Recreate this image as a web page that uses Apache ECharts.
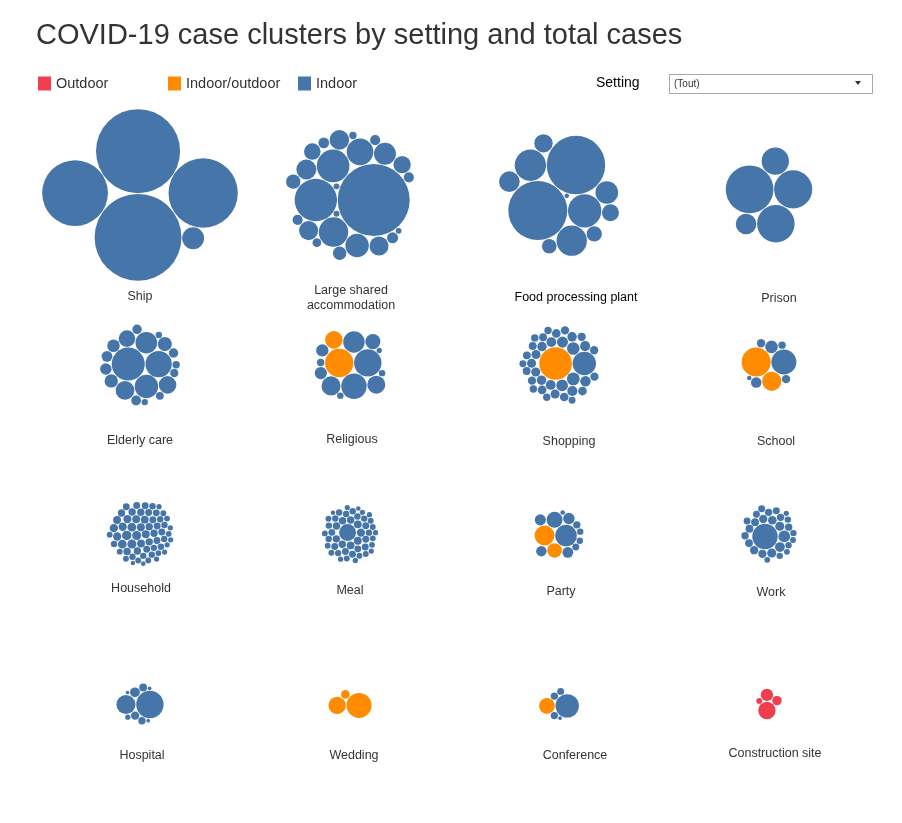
<!DOCTYPE html>
<html>
<head>
<meta charset="utf-8">
<script src="https://cdn.jsdelivr.net/npm/echarts@6/dist/echarts.min.js"></script>
<style>
  html, body { margin: 0; padding: 0; background: #fff; }
  #main { width: 902px; height: 823px; }
</style>
</head>
<body>
<div id="main"></div>
<script>
'use strict'

// settings, in reading order (4 per row)
const settings = [
    'Ship', 'Large shared\naccommodation', 'Food processing plant', 'Prison',
    'Elderly care', 'Religious', 'Shopping', 'School',
    'Household', 'Meal', 'Party', 'Work',
    'Hospital', 'Wedding', 'Conference', 'Construction site'
]

// cases per cluster, split by setting type
const indoor = [
    [1100, 1030, 700, 630, 70],
    [755, 262, 155, 126, 104, 80, 70, 58, 56, 53, 53, 44, 40, 30, 26, 18, 17, 15, 15, 15, 11, 8, 5, 5, 5],
    [507, 497, 162, 143, 134, 75, 62, 49, 42, 34, 31, 3],
    [331, 212, 205, 109, 62],
    [159, 101, 80, 68, 51, 45, 40, 29, 26, 23, 19, 17, 14, 13, 13, 10, 9, 8, 6, 6],
    [109, 94, 67, 53, 47, 33, 22, 22, 8, 6, 6, 4],
    [80, 24, 23, 20, 18, 16, 15, 15, 14, 14, 13, 13, 13, 12, 12, 12, 12, 11, 11, 11, 11, 10, 10, 10, 10, 10, 9, 9, 9, 9, 8, 8, 8, 8, 7, 7],
    [91, 23, 16, 10, 10, 8, 3],
    [13, 12, 12, 11, 11, 10, 10, 10, 10, 9, 9, 9, 9, 9, 9, 8, 8, 8, 8, 8, 8, 8, 8, 7, 7, 7, 7, 7, 7, 7, 7, 7, 7,
        6, 6, 6, 6, 6, 6, 6, 6, 6, 6, 5, 5, 5, 5, 5, 5, 5, 5, 5, 4, 4, 4, 4, 4, 4, 3, 3],
    [42, 10, 9, 9, 9, 8, 8, 8, 8, 8, 7, 7, 7, 7, 7, 7, 7, 7, 6, 6, 6, 6, 6, 6, 6, 6, 6, 6,
        5, 5, 5, 5, 5, 5, 5, 5, 5, 5, 5, 4, 4, 4, 4, 4, 4, 4, 3, 3],
    [68, 37, 19, 18, 17, 16, 8, 7, 6, 6, 3],
    [94, 20, 14, 12, 12, 11, 10, 10, 10, 9, 9, 9, 8, 8, 8, 8, 7, 7, 7, 7, 6, 6, 6, 6, 5, 5, 5, 4],
    [109, 53, 14, 10, 9, 8, 4, 2, 2, 2],
    [],
    [80, 8, 8, 7, 2],
    []
]
const mixed = [
    [], [], [], [],
    [], [117, 45], [155], [123, 54],
    [], [], [58, 31], [],
    [], [91, 44, 11], [36], []
]
const outdoor = [
    [], [], [], [],
    [], [], [], [],
    [], [], [], [],
    [], [], [], [44, 22, 13, 5]
]

const types = ['Outdoor', 'Indoor/outdoor', 'Indoor']
const typeColors = {'Outdoor': '#EF3F4F', 'Indoor/outdoor': '#FF8C00', 'Indoor': '#4675AA'}

// layout
const colX = [140, 350, 559, 769]
const rowY = [195, 365, 534, 704]
const lblX = [140, 351, 576, 779, 140, 352, 569, 776, 141, 350, 561, 771, 142, 354, 575, 775]
const lblY = [297, 298, 298, 299, 441, 440, 442, 442, 589, 591, 592, 593, 756, 756, 756, 754]
// turn of each packed bubble group, degrees
const turn = [-90, 180, -50, 0, 0, 0, 0, 0, 0, 0, 180, 0, 180, 180, 180, -90]
const R_SCALE = 1.31
const PAD = 0.7
const FONT = 'Liberation Sans, Arial, sans-serif'

function radius(v) {
    return R_SCALE * Math.sqrt(v)
}

function centre(placed) {
    let x0 = Infinity, x1 = -Infinity, y0 = Infinity, y1 = -Infinity
    placed.forEach(p => {
        x0 = Math.min(x0, p.x - p.r); x1 = Math.max(x1, p.x + p.r)
        y0 = Math.min(y0, p.y - p.r); y1 = Math.max(y1, p.y + p.r)
    })
    const ox = (x0 + x1) / 2, oy = (y0 + y1) / 2
    placed.forEach(p => { p.x -= ox; p.y -= oy })
}

// greedy circle packing: biggest first, each new circle tangent to two others, nearest the centroid
function packCircles(items, deg) {
    const list = items.slice().sort((a, b) => b.v - a.v)
    const placed = []
    list.forEach(c => {
        const r = radius(c.v) + PAD / 2
        c.r = r
        if (placed.length === 0) {
            c.x = 0; c.y = 0
        } else if (placed.length === 1) {
            c.x = placed[0].r + r; c.y = 0
        } else {
            let sx = 0, sy = 0, sw = 0
            placed.forEach(p => { const w = p.r * p.r; sx += p.x * w; sy += p.y * w; sw += w })
            const cx = sx / sw, cy = sy / sw
            let best = null, bestD = Infinity
            for (let i = 0; i < placed.length; i++) {
                for (let j = i + 1; j < placed.length; j++) {
                    const A = placed[i], B = placed[j]
                    const da = A.r + r, db = B.r + r
                    const dx = B.x - A.x, dy = B.y - A.y
                    const d = Math.sqrt(dx * dx + dy * dy)
                    if (d > da + db || d < Math.abs(da - db) || d === 0) continue
                    const a = (da * da - db * db + d * d) / (2 * d)
                    const h = Math.sqrt(Math.max(0, da * da - a * a))
                    const px = A.x + a * dx / d, py = A.y + a * dy / d
                    const cands = [[px - h * dy / d, py + h * dx / d], [px + h * dy / d, py - h * dx / d]]
                    cands.forEach(q => {
                        const dd = (q[0] - cx) * (q[0] - cx) + (q[1] - cy) * (q[1] - cy)
                        if (dd >= bestD) return
                        for (let k = 0; k < placed.length; k++) {
                            const P = placed[k]
                            const ex = q[0] - P.x, ey = q[1] - P.y
                            if (Math.sqrt(ex * ex + ey * ey) < P.r + r - 1e-6) return
                        }
                        best = q; bestD = dd
                    })
                }
            }
            c.x = best[0]; c.y = best[1]
        }
        placed.push(c)
    })
    centre(placed)
    const a = deg * Math.PI / 180, cs = Math.cos(a), sn = Math.sin(a)
    placed.forEach(p => {
        const x = p.x * cs - p.y * sn, y = p.x * sn + p.y * cs
        p.x = x; p.y = y
    })
    centre(placed)
    return placed
}

const grids = [], xAxes = [], yAxes = [], series = [], labels = []
settings.forEach((name, p) => {
    const cx = colX[p % 4], cy = rowY[Math.floor(p / 4)]
    grids.push({left: cx - 105, top: cy - 85, width: 210, height: 170})
    xAxes.push({gridIndex: p, type: 'value', min: -105, max: 105, show: false})
    yAxes.push({gridIndex: p, type: 'value', min: -85, max: 85, show: false, inverse: true})

    const items = []
    outdoor[p].forEach(v => items.push({v: v, t: 'Outdoor'}))
    mixed[p].forEach(v => items.push({v: v, t: 'Indoor/outdoor'}))
    indoor[p].forEach(v => items.push({v: v, t: 'Indoor'}))
    const packed = packCircles(items, turn[p])

    types.forEach(t => {
        const pts = packed.filter(d => d.t === t)
        if (!pts.length) return
        series.push({
            type: 'scatter',
            name: t,
            xAxisIndex: p,
            yAxisIndex: p,
            clip: false,
            data: pts.map(d => [d.x, d.y, d.v]),
            symbolSize: val => 2 * radius(val[2]),
            itemStyle: {color: typeColors[t], opacity: 1},
            emphasis: {scale: false}
        })
    })

    labels.push({
        type: 'text',
        x: lblX[p],
        y: lblY[p],
        style: {
            text: name,
            textAlign: 'center',
            textVerticalAlign: 'middle',
            fontSize: 12.5,
            lineHeight: 15,
            fontFamily: FONT,
            fill: name === 'Food processing plant' ? '#000' : '#333'
        }
    })
})

const legendBase = {
    top: 76,
    padding: 0,
    icon: 'rect',
    itemWidth: 13,
    itemHeight: 14,
    textStyle: {fontSize: 14.5, color: '#333', fontFamily: FONT}
}

const option = {
    animation: false,
    backgroundColor: '#fff',
    title: {
        text: 'COVID-19 case clusters by setting and total cases',
        left: 31,
        top: 16,
        textStyle: {fontSize: 29, fontWeight: 'normal', color: '#333', fontFamily: FONT}
    },
    legend: [
        Object.assign({left: 38, data: ['Outdoor']}, legendBase),
        Object.assign({left: 168, data: ['Indoor/outdoor']}, legendBase),
        Object.assign({left: 298, data: ['Indoor']}, legendBase)
    ],
    grid: grids,
    xAxis: xAxes,
    yAxis: yAxes,
    series: series,
    graphic: labels.concat([
        {
            type: 'text', x: 596, y: 83,
            style: {text: 'Setting', fontSize: 14, fill: '#000', textVerticalAlign: 'middle', fontFamily: FONT}
        },
        {
            type: 'rect', shape: {x: 669.5, y: 74.5, width: 203, height: 19},
            style: {fill: '#fff', stroke: '#a9a9a9', lineWidth: 1}
        },
        {
            type: 'text', x: 674, y: 84,
            style: {text: '(Tout)', fontSize: 10, fill: '#333', textVerticalAlign: 'middle', fontFamily: FONT}
        },
        {
            type: 'polygon', shape: {points: [[855, 81], [861, 81], [858, 85]]},
            style: {fill: '#333'}
        }
    ])
}

const myChart = echarts.init(document.getElementById('main'))
myChart.setOption(option)
</script>
</body>
</html>
